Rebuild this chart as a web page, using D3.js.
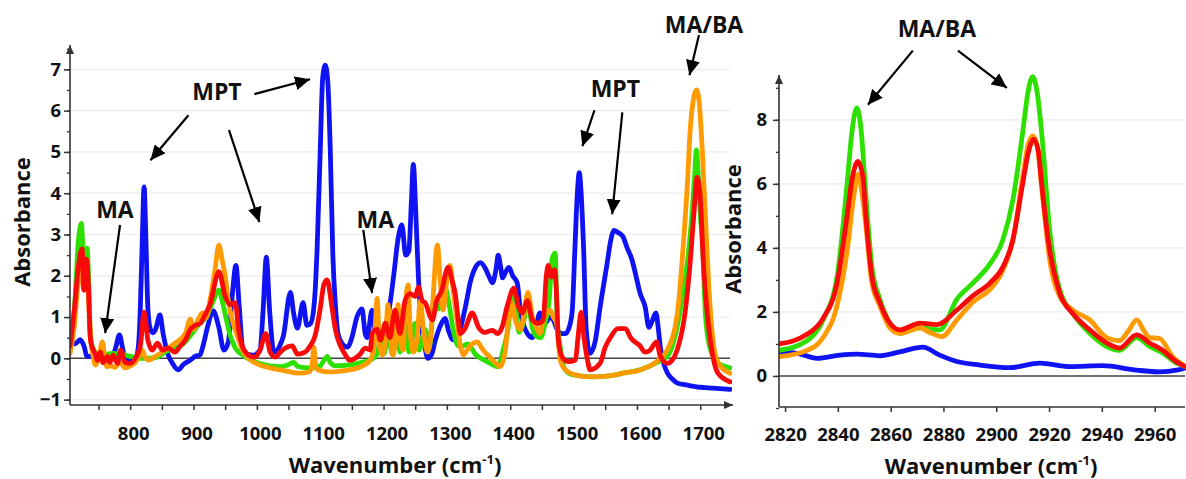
<!DOCTYPE html>
<html><head><meta charset="utf-8">
<script src="https://cdnjs.cloudflare.com/ajax/libs/d3/7.8.5/d3.min.js"></script>
<style>
body{margin:0;background:#fff}
svg text{font-family:"Open Sans",sans-serif;font-weight:700;fill:#111}
</style>
</head><body>
<svg id="c" width="1186" height="479"></svg>
<script>
// ---------- DATA ----------
// tick labels
const leftXTicks = [800, 900, 1000, 1100, 1200, 1300, 1400, 1500, 1600, 1700];
const leftYTicks = [-1, 0, 1, 2, 3, 4, 5, 6, 7];
const rightXTicks = [2820, 2840, 2860, 2880, 2900, 2920, 2940, 2960];
const rightYTicks = [0, 2, 4, 6, 8];
const xTitle = "Wavenumber (cm";
const yTitle = "Absorbance";
const seriesColors = {blue:"#0f12f2", green:"#2ee000", orange:"#ff9a00", red:"#f80a0a"};

// left panel spectra [wavenumber, absorbance]
const leftBlue = [[705,0.4],[713,0.35],[721,0.45],[727,0.3],[732,0.05],[740,0.05],[752,0.05],[764,0.05],[772,0.05],[777,0.25],[783,0.57],[788,0.25],[792,-0.05],[800,-0.05],[808,-0.05],[813,0.3],[816,1.2],[819,2.8],[822,4.15],[825,2.8],[828,1.2],[832,0.7],[836,0.62],[840,0.7],[847,1.05],[852,0.6],[860,0.08],[866,-0.1],[876,-0.28],[884,-0.15],[894,-0.05],[903,0.05],[910,0.08],[915,0.3],[922,0.75],[931,1.15],[940,0.75],[948,0.2],[955,0.4],[961,1.5],[967,2.25],[972,1.3],[978,0.2],[985,0.1],[995,0.08],[1005,0.2],[1010,1.2],[1015,2.45],[1020,1.2],[1026,0.2],[1029,0.15],[1036,0.3],[1042,0.55],[1053,1.6],[1058,1.1],[1064,0.73],[1073,1.35],[1079,0.8],[1085,0.85],[1091,1.4],[1095,2.6],[1100,5.0],[1104,6.8],[1108,7.1],[1112,6.7],[1116,5.0],[1120,2.5],[1124,1.3],[1128,0.6],[1135,0.35],[1143,0.27],[1150,0.5],[1158,1.0],[1166,1.2],[1171,0.6],[1174,0.5],[1182,1.17],[1188,0.5],[1194,0.45],[1200,0.6],[1208,1.1],[1216,2.0],[1223,2.9],[1229,3.23],[1235,2.5],[1240,2.6],[1244,3.8],[1247,4.7],[1251,3.5],[1255,2.0],[1260,0.8],[1265,0.3],[1270,0.0],[1276,0.1],[1282,0.45],[1290,0.8],[1297,0.97],[1303,0.65],[1310,0.45],[1316,0.45],[1322,0.75],[1330,1.3],[1337,1.85],[1345,2.2],[1353,2.32],[1360,2.2],[1366,2.0],[1372,1.83],[1378,2.2],[1381,2.5],[1385,2.2],[1388,1.95],[1393,2.1],[1398,2.2],[1404,2.0],[1411,1.83],[1416,1.17],[1427,0.6],[1435,0.5],[1441,0.8],[1447,1.1],[1455,0.85],[1463,1.0],[1469,0.9],[1474,0.7],[1482,0.6],[1487,0.6],[1494,0.8],[1498,1.17],[1502,2.6],[1506,4.0],[1509,4.5],[1512,4.0],[1516,2.6],[1520,0.7],[1526,0.12],[1534,0.4],[1542,1.25],[1553,2.3],[1558,2.8],[1564,3.1],[1570,3.05],[1578,2.95],[1584,2.7],[1592,2.4],[1600,1.9],[1605,1.58],[1613,1.25],[1619,0.75],[1624,0.9],[1630,1.1],[1634,0.7],[1637,0.27],[1644,-0.2],[1648,-0.35],[1656,-0.5],[1664,-0.6],[1680,-0.65],[1700,-0.7],[1720,-0.72],[1747,-0.75]];

const leftGreen = [[705,0.45],[712,1.2],[718,2.8],[723,3.27],[726,2.5],[729,2.2],[732,2.67],[735,1.6],[737,0.6],[740,0.3],[748,0.12],[760,0.1],[772,0.12],[785,0.1],[800,0.05],[815,0.0],[825,0.0],[840,0.02],[855,0.15],[870,0.25],[880,0.3],[890,0.45],[900,0.65],[910,0.85],[920,1.0],[930,1.35],[940,1.65],[946,1.35],[952,0.93],[958,0.55],[966,0.25],[978,0.08],[1000,-0.1],[1020,-0.18],[1037,-0.2],[1050,-0.15],[1058,-0.1],[1065,-0.2],[1085,-0.23],[1100,-0.18],[1106,-0.05],[1111,0.05],[1116,-0.1],[1124,-0.18],[1147,-0.16],[1170,-0.08],[1180,-0.04],[1190,0.1],[1195,0.45],[1200,0.1],[1208,0.5],[1214,0.1],[1220,0.7],[1226,0.15],[1234,0.9],[1240,0.15],[1250,0.85],[1256,0.2],[1266,0.7],[1272,0.25],[1280,1.3],[1287,1.2],[1297,1.73],[1303,1.35],[1310,0.7],[1318,0.3],[1325,0.3],[1333,0.35],[1345,0.1],[1360,-0.05],[1372,-0.15],[1380,-0.2],[1390,0.27],[1397,0.75],[1403,1.65],[1408,1.3],[1414,0.63],[1422,0.95],[1428,1.5],[1433,0.9],[1440,0.55],[1448,0.5],[1455,0.85],[1462,1.5],[1466,2.4],[1471,2.55],[1474,1.0],[1479,0.27],[1487,-0.28],[1500,-0.4],[1530,-0.45],[1560,-0.42],[1578,-0.36],[1605,-0.28],[1632,-0.1],[1648,0.05],[1656,0.3],[1664,0.8],[1673,1.6],[1681,2.5],[1687,3.5],[1691,4.4],[1694,5.05],[1697,4.4],[1700,3.5],[1704,2.7],[1708,1.1],[1715,0.27],[1728,-0.11],[1747,-0.23]];

const leftOrange = [[705,0.12],[712,0.8],[718,1.9],[723,2.3],[726,1.7],[729,1.8],[732,2.1],[735,1.2],[738,0.4],[741,0.1],[745,-0.16],[751,0.05],[756,0.4],[760,0.0],[763,-0.2],[770,-0.18],[776,-0.22],[784,-0.1],[792,-0.23],[800,-0.18],[808,-0.1],[814,0.05],[819,0.2],[823,0.05],[829,-0.04],[840,0.05],[855,0.2],[871,0.37],[887,0.6],[895,0.95],[900,0.7],[907,0.93],[914,1.1],[920,0.98],[926,1.4],[934,2.15],[940,2.74],[945,2.4],[950,2.0],[955,1.4],[961,0.93],[969,0.56],[977,0.2],[990,-0.04],[1005,-0.16],[1021,-0.23],[1037,-0.28],[1053,-0.33],[1068,-0.36],[1082,-0.33],[1087,-0.2],[1090,0.27],[1093,-0.2],[1097,-0.28],[1116,-0.33],[1132,-0.31],[1147,-0.28],[1163,-0.21],[1179,-0.04],[1185,0.3],[1190,1.45],[1193,0.5],[1196,0.15],[1198,0.08],[1203,0.45],[1207,1.3],[1210,0.7],[1215,0.08],[1220,0.7],[1223,1.3],[1226,0.5],[1231,0.2],[1234,1.17],[1239,1.78],[1242,0.7],[1247,0.15],[1253,0.5],[1258,1.4],[1263,0.7],[1269,0.15],[1274,0.45],[1278,1.4],[1285,2.74],[1290,1.78],[1294,1.17],[1300,1.9],[1305,2.25],[1310,1.65],[1316,0.93],[1321,0.32],[1326,0.08],[1332,0.2],[1340,0.35],[1348,0.4],[1355,0.25],[1360,0.15],[1368,0.03],[1376,-0.1],[1384,-0.2],[1392,0.15],[1397,0.93],[1402,1.35],[1408,0.93],[1416,0.69],[1422,1.1],[1428,1.6],[1435,1.0],[1443,0.69],[1447,0.6],[1452,0.93],[1463,1.17],[1468,1.0],[1473,0.85],[1479,-0.04],[1487,-0.28],[1503,-0.4],[1526,-0.45],[1560,-0.42],[1578,-0.36],[1605,-0.28],[1630,-0.09],[1648,0.2],[1664,1.1],[1673,2.7],[1680,4.3],[1684,5.5],[1689,6.25],[1694,6.5],[1698,6.25],[1703,5.1],[1708,3.5],[1713,1.9],[1720,0.45],[1728,-0.1],[1747,-0.36]];

const leftRed = [[705,0.3],[712,1.2],[718,2.2],[724,2.65],[727,1.65],[731,2.4],[734,1.8],[737,0.5],[740,0.27],[745,0.1],[748,-0.05],[753,0.15],[757,-0.1],[764,0.05],[768,-0.1],[773,0.08],[780,-0.12],[785,0.2],[792,-0.1],[800,-0.12],[808,0.0],[816,0.3],[822,1.12],[828,0.44],[835,0.2],[843,0.37],[851,0.2],[860,0.25],[871,0.15],[879,0.3],[887,0.44],[895,0.7],[903,0.8],[911,0.85],[918,1.05],[926,1.3],[940,2.1],[950,1.5],[958,1.3],[966,1.35],[971,0.7],[977,0.3],[982,0.15],[990,0.05],[997,0.03],[1005,0.2],[1014,0.6],[1021,0.15],[1029,0.03],[1037,0.15],[1045,0.25],[1056,0.3],[1064,0.1],[1076,0.15],[1084,0.3],[1092,0.55],[1100,1.2],[1106,1.8],[1111,1.9],[1118,1.3],[1124,0.7],[1132,0.3],[1140,0.08],[1147,-0.05],[1155,0.0],[1163,0.1],[1171,0.25],[1179,0.2],[1182,0.6],[1190,0.7],[1195,0.44],[1203,0.85],[1210,0.5],[1218,1.17],[1226,0.6],[1234,1.4],[1242,1.57],[1250,1.5],[1255,1.73],[1261,1.4],[1266,1.34],[1274,1.0],[1277,0.93],[1284,1.4],[1293,1.7],[1297,2.0],[1302,2.2],[1308,1.9],[1313,1.58],[1318,0.93],[1321,0.6],[1329,0.73],[1340,1.1],[1350,0.75],[1360,0.63],[1372,0.68],[1380,0.6],[1387,0.75],[1395,1.25],[1406,1.7],[1413,1.25],[1419,1.1],[1427,1.4],[1435,0.93],[1444,0.85],[1452,0.93],[1457,2.0],[1460,2.25],[1465,1.97],[1470,2.15],[1473,1.6],[1476,0.45],[1482,0.03],[1492,-0.08],[1503,-0.04],[1507,0.5],[1512,1.12],[1517,0.44],[1522,-0.04],[1526,-0.28],[1542,-0.12],[1550,0.27],[1558,0.5],[1570,0.72],[1582,0.72],[1590,0.5],[1605,0.3],[1613,0.15],[1621,0.2],[1631,0.4],[1637,0.05],[1648,-0.12],[1656,-0.04],[1665,0.27],[1676,1.1],[1684,2.3],[1690,3.5],[1695,4.39],[1700,3.9],[1705,2.3],[1711,1.1],[1719,0.13],[1728,-0.36],[1747,-0.57]];

// right panel spectra
const rightBlue = [[2817.7,0.75],[2825,0.7],[2832.1,0.55],[2840.8,0.65],[2847.2,0.68],[2855.9,0.63],[2863.5,0.75],[2872.2,0.9],[2878.6,0.65],[2885.1,0.45],[2893.8,0.34],[2905.1,0.26],[2916.5,0.4],[2927.8,0.29],[2940.3,0.32],[2953.2,0.18],[2961.9,0.13],[2968.3,0.18],[2971.5,0.25]];
const rightGreen = [[2817.7,0.8],[2828.3,1.1],[2834.4,1.75],[2839.7,3.1],[2843.5,6.0],[2845.3,7.6],[2847.2,8.37],[2848.9,7.6],[2850.3,6.0],[2852.9,3.4],[2855.9,2.4],[2859.7,1.65],[2863.5,1.33],[2871.1,1.5],[2878.6,1.44],[2885.1,2.4],[2891.1,2.9],[2897.6,3.5],[2902.5,4.25],[2906.3,5.5],[2910,7.6],[2911.9,8.8],[2913.8,9.35],[2915.6,8.8],[2917.2,7.6],[2920.3,4.5],[2924,2.7],[2929,1.95],[2935.4,1.33],[2941.8,0.92],[2946.7,0.8],[2953.2,1.2],[2958.1,0.92],[2963,0.72],[2968.3,0.4],[2971.5,0.3]];
const rightOrange = [[2817.7,0.6],[2828.3,0.8],[2834.4,1.2],[2839.7,2.2],[2843.5,3.9],[2846,5.6],[2847.6,6.3],[2849.3,5.6],[2850.6,4.7],[2852.9,2.9],[2855.9,2.2],[2859.7,1.5],[2863.5,1.33],[2871.1,1.5],[2875,1.35],[2879.4,1.23],[2885.1,1.75],[2891.1,2.3],[2897.6,2.7],[2902.5,3.3],[2906.3,4.25],[2910,6.2],[2912,7.2],[2913.8,7.5],[2915.5,7.2],[2917.2,5.9],[2920.3,3.6],[2924,2.5],[2929,2.06],[2935.4,1.75],[2941.8,1.2],[2946.7,1.1],[2950,1.4],[2953.2,1.75],[2956,1.4],[2958.1,1.2],[2961.9,1.17],[2966.8,0.6],[2971.5,0.3]];
const rightRed = [[2817.7,1.0],[2828.3,1.3],[2834.4,1.8],[2839.7,2.9],[2843.5,5.0],[2845.5,6.2],[2847.6,6.7],[2849.5,6.2],[2850.6,5.0],[2852.9,3.1],[2855.9,2.3],[2859.7,1.65],[2863.5,1.44],[2871.1,1.65],[2877.5,1.6],[2885.1,2.06],[2891.1,2.5],[2897.6,2.9],[2902.5,3.4],[2906.3,4.25],[2910,6.0],[2912.2,7.0],[2914.2,7.4],[2916,7.0],[2917.2,6.0],[2920.3,3.9],[2924,2.6],[2929,1.95],[2935.4,1.44],[2941.8,1.03],[2946.7,0.87],[2953.2,1.28],[2958.1,1.03],[2963,0.8],[2968.3,0.44],[2971.5,0.3]];

// annotations (data coordinates)
const leftLabels = [["MPT",937,6.45],["MA",776,3.59],["MA",1187,3.35],["MPT",1566,6.54],["MA/BA",1706,8.07]];
const leftArrows = [[996,6.40,1084,6.76],[892,5.89,832,4.80],[956,5.53,1004,3.30],[784,3.23,760.5,0.61],[1168,3.11,1182,1.58],[1533,6.01,1514,5.14],[1577,5.96,1561,3.49],[1698,7.83,1683,6.86]];
const rightLabels = [["MA/BA",2877.5,10.84]];
const rightArrows = [[2868.4,10.16,2851.4,8.47],[2885.5,10.16,2904.0,9.0]];

// ---------- DRAW ----------
const svg = d3.select("#c");
const defs = svg.append("defs");
defs.append("marker").attr("id","ah").attr("markerUnits","userSpaceOnUse")
  .attr("markerWidth",16).attr("markerHeight",14).attr("refX",15).attr("refY",7).attr("orient","auto")
  .append("path").attr("d","M0,0 L15,7 L0,14 Z").attr("fill","#000");
defs.append("marker").attr("id","axh").attr("markerUnits","userSpaceOnUse")
  .attr("markerWidth",10).attr("markerHeight",10).attr("refX",9).attr("refY",4).attr("orient","auto")
  .append("path").attr("d","M0,0 L9,4 L0,8 Z").attr("fill","#333");

function panel(cfg){
  const {x, y, id} = cfg;
  const g = svg.append("g");
  const [x0, x1] = x.range();
  const [yb, yt] = y.range();
  // grid
  g.append("g").selectAll("line").data(cfg.grid).join("line")
    .attr("x1", x0).attr("x2", x1).attr("y1", d=>y(d)).attr("y2", d=>y(d))
    .attr("stroke","#ececec").attr("stroke-width",1.2);
  // zero line
  g.append("line").attr("x1",x0).attr("x2",x1).attr("y1",y(0)).attr("y2",y(0))
    .attr("stroke","#444").attr("stroke-width",1.5);
  // clip
  defs.append("clipPath").attr("id","clip"+id).append("rect")
    .attr("x",x0).attr("y",yt-20).attr("width",x1-x0+2).attr("height",yb-yt+20);
  const line = d3.line().x(d=>x(d[0])).y(d=>y(d[1])).curve(d3.curveMonotoneX);
  const cg = g.append("g").attr("clip-path","url(#clip"+id+")");
  cfg.series.forEach(s=>{
    cg.append("path").datum(s.data).attr("d",line).attr("fill","none")
      .attr("stroke",s.color).attr("stroke-width",4.8)
      .attr("stroke-linejoin","round").attr("stroke-linecap","round");
  });
  // axes
  const ax = g.append("g").attr("transform",`translate(0,${yb})`)
    .call(d3.axisBottom(x).tickValues(cfg.xMinor).tickSize(5).tickFormat(""));
  ax.select(".domain").remove();
  ax.selectAll("line").attr("stroke","#333").attr("stroke-width",1.5);
  const axl = g.append("g").attr("transform",`translate(0,${yb})`)
    .call(d3.axisBottom(x).tickValues(cfg.xTicks).tickSize(0).tickPadding(cfg.xPad).tickFormat(d3.format("d")));
  axl.select(".domain").remove();
  axl.selectAll("text").attr("font-size",18.5).attr("dx",cfg.xdx||0).style("font-family","'Open Sans',sans-serif").style("font-weight",700).attr("fill","#111");
  const ayMin = g.append("g").attr("transform",`translate(${x0},0)`)
    .call(d3.axisLeft(y).tickValues(cfg.yMinor).tickSize(3).tickFormat(""));
  ayMin.select(".domain").remove();
  ayMin.selectAll("line").attr("stroke","#333").attr("stroke-width",1.3);
  const ay = g.append("g").attr("transform",`translate(${x0},0)`)
    .call(d3.axisLeft(y).tickValues(cfg.yTicks).tickSize(6).tickPadding(cfg.yPad).tickFormat(d3.format("d")));
  ay.select(".domain").remove();
  ay.selectAll("line").attr("stroke","#333").attr("stroke-width",1.5);
  ay.selectAll("text").attr("font-size",18.5).style("font-family","'Open Sans',sans-serif").style("font-weight",700).attr("fill","#111");
  // axis lines
  g.append("line").attr("x1",x0).attr("x2",x0).attr("y1",yb).attr("y2",yt)
    .attr("stroke","#333").attr("stroke-width",1.6).attr("marker-end","url(#axh)");
  const xl = g.append("line").attr("x1",x0).attr("x2",x1+(cfg.xArrow?3:0)).attr("y1",yb).attr("y2",yb)
    .attr("stroke","#333").attr("stroke-width",1.6);
  if (cfg.xArrow) xl.attr("marker-end","url(#axh)");
  // titles
  const t = g.append("text").attr("x",cfg.xtX).attr("y",cfg.xtY).attr("text-anchor","middle").attr("font-size",22);
  t.append("tspan").text(xTitle);
  t.append("tspan").text("-1").attr("font-size",13).attr("dy",-9);
  t.append("tspan").text(")").attr("dy",9);
  g.append("text").attr("transform",`translate(${cfg.ytX},${cfg.ytY}) rotate(-90)`)
    .attr("text-anchor","middle").attr("font-size",22).text(yTitle);
  // annotations
  g.append("g").selectAll("line").data(cfg.arrows).join("line")
    .attr("x1",d=>x(d[0])).attr("y1",d=>y(d[1])).attr("x2",d=>x(d[2])).attr("y2",d=>y(d[3]))
    .attr("stroke","#000").attr("stroke-width",2.2).attr("marker-end","url(#ah)");
  g.append("g").selectAll("text").data(cfg.labels).join("text")
    .attr("x",d=>x(d[1])).attr("y",d=>y(d[2])).attr("dy","0.36em")
    .attr("text-anchor","middle").attr("font-size",23).text(d=>d[0]);
}

const xL = d3.scaleLinear().domain([705,1747]).range([70,730]);
const yL = d3.scaleLinear().domain([-1.13,7.59]).range([405,45]);
const xR = d3.scaleLinear().domain([2817.7,2971.5]).range([779,1185]);
const yR = d3.scaleLinear().domain([-0.97,9.4]).range([407,75]);

panel({id:"L", x:xL, y:yL,
  grid:[-1,1,2,3,4,5,6,7],
  series:[{data:leftBlue,color:seriesColors.blue},{data:leftGreen,color:seriesColors.green},{data:leftOrange,color:seriesColors.orange},{data:leftRed,color:seriesColors.red}],
  xTicks:leftXTicks, xMinor:d3.range(750,1701,50), xPad:22, xdx:3,
  yTicks:leftYTicks, yMinor:d3.range(-1,7.6,0.5), yPad:3,
  xArrow:true, xtX:395, xtY:473, ytX:30, ytY:222,
  labels:leftLabels, arrows:leftArrows});

panel({id:"R", x:xR, y:yR,
  grid:[2,4,6,8],
  series:[{data:rightBlue,color:seriesColors.blue},{data:rightGreen,color:seriesColors.green},{data:rightOrange,color:seriesColors.orange},{data:rightRed,color:seriesColors.red}],
  xTicks:rightXTicks, xMinor:rightXTicks, xPad:21, xdx:0,
  yTicks:rightYTicks, yMinor:d3.range(-1,9.1,1), yPad:6,
  xArrow:false, xtX:991, xtY:474, ytX:741, ytY:229,
  labels:rightLabels, arrows:rightArrows});
</script>
</body></html>
